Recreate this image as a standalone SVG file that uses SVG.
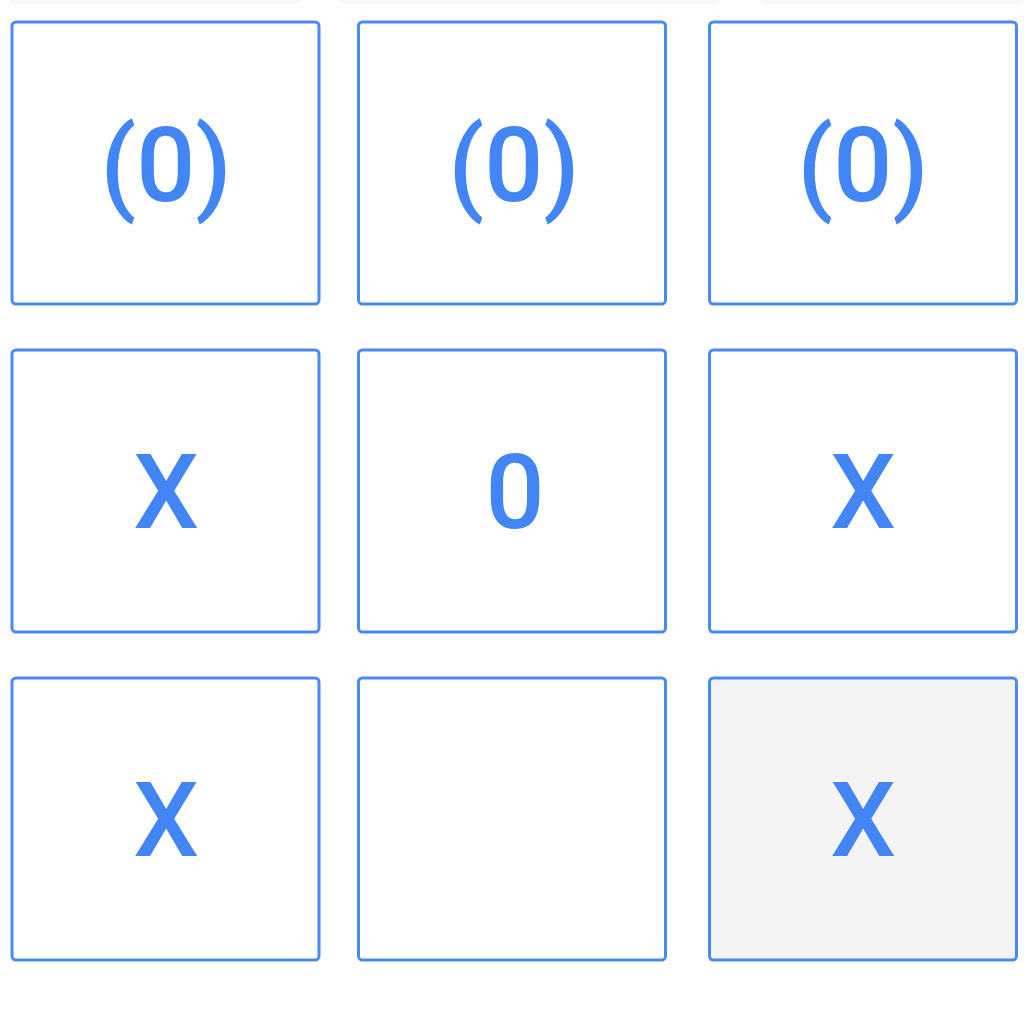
<svg xmlns="http://www.w3.org/2000/svg" width="1024" height="1024" viewBox="0 0 1024 1024">
<style>
.cell{fill:#ffffff;stroke:#4a8af4;stroke-width:3}
.sel{fill:#f4f4f4}
.t{font-family:Roboto,"Noto Sans",sans-serif;font-size:104px;font-weight:500;fill:#4285f4;text-anchor:middle}
.shade{fill:#f7f7f7}
</style>
<rect width="1024" height="1024" fill="#ffffff"/>
<g id="top-shadows">
<rect class="shade" x="10" y="-6" width="290" height="10" rx="5"/>
<rect class="shade" x="340" y="-6" width="380" height="10" rx="5"/>
<rect class="shade" x="760" y="-6" width="264" height="10" rx="5"/>
</g>
<g id="c11"><rect class="cell" x="12" y="22" width="307" height="282" rx="4"/><text class="t" x="166" y="201">(0)</text></g>
<g id="c12"><rect class="cell" x="358.5" y="22" width="307" height="282" rx="4"/><text class="t" x="514" y="201">(0)</text></g>
<g id="c13"><rect class="cell" x="709.5" y="22" width="307" height="282" rx="4"/><text class="t" x="863" y="201">(0)</text></g>
<g id="c21"><rect class="cell" x="12" y="350" width="307" height="282" rx="4"/><text class="t" x="166" y="528">X</text></g>
<g id="c22"><rect class="cell" x="358.5" y="350" width="307" height="282" rx="4"/><text class="t" x="515" y="528">0</text></g>
<g id="c23"><rect class="cell" x="709.5" y="350" width="307" height="282" rx="4"/><text class="t" x="863" y="528">X</text></g>
<g id="c31"><rect class="cell" x="12" y="678" width="307" height="282" rx="4"/><text class="t" x="166" y="856">X</text></g>
<g id="c32"><rect class="cell" x="358.5" y="678" width="307" height="282" rx="4"/></g>
<g id="c33"><rect class="cell sel" x="709.5" y="678" width="307" height="282" rx="4"/><text class="t" x="863" y="856">X</text></g>
<g id="connectors"></g>
</svg>
